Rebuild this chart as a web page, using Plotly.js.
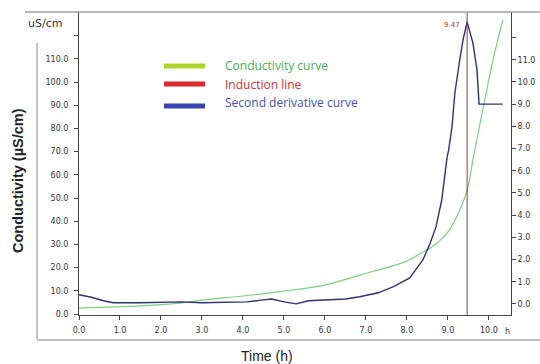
<!DOCTYPE html>
<html>
<head>
<meta charset="utf-8">
<script src="https://cdn.plot.ly/plotly-3.0.1.min.js"></script>
<style>html,body{margin:0;padding:0;background:#fff;}#chart{width:540px;height:364px;}</style>
</head>
<body>
<div id="chart"></div>
<script>
// Conductivity curve (left axis, µS/cm)
const condTime = [0, 1.4, 2.46, 3, 4, 5, 6, 6.85, 7.66, 8.0, 8.32, 8.6, 8.98, 9.29, 9.49, 9.61, 9.85, 10.1, 10.34];
const conductivity = [2.6, 3.4, 4.7, 6.0, 7.8, 9.9, 12.5, 16.8, 20.8, 22.8, 26.0, 28.8, 34.9, 44.8, 54.7, 66.4, 87.9, 109.5, 126.7];

// Second derivative curve (right axis)
const derivTime = [0, 0.3, 0.6, 0.83, 1.5, 2.5, 3.0, 3.6, 4.1, 4.5, 4.7, 5.0, 5.3, 5.6, 6.0, 6.5, 6.85, 7.3, 7.66, 8.07, 8.39, 8.56, 8.71, 8.85, 8.98, 9.02, 9.1, 9.17, 9.29, 9.37, 9.47, 9.61, 9.71, 9.76, 10.34];
const secondDeriv = [0.41, 0.3, 0.14, 0.05, 0.05, 0.09, 0.05, 0.07, 0.09, 0.18, 0.22, 0.09, 0.0, 0.14, 0.18, 0.22, 0.32, 0.5, 0.77, 1.17, 1.98, 2.7, 3.47, 4.68, 6.6, 6.94, 7.97, 9.5, 11.0, 11.9, 12.7, 11.76, 10.54, 9.0, 9.0];

// Induction time (h)
const inductionTime = 9.47;

// Tick labels
const xTicks = [0,1,2,3,4,5,6,7,8,9,10];
const xTickText = ["0.0","1.0","2.0","3.0","4.0","5.0","6.0","7.0","8.0","9.0","10.0"];
const yTicks = [0,10,20,30,40,50,60,70,80,90,100,110,120];
const yTickText = ["0.0","10.0","20.0","30.0","40.0","50.0","60.0","70.0","80.0","90.0","100.0","110.0",""];
const y2Ticks = [0,1,2,3,4,5,6,7,8,9,10,11,12];
const y2TickText = ["0.0","1.0","2.0","3.0","4.0","5.0","6.0","7.0","8.0","9.0","10.0","11.0",""];

const legendNames = ["Conductivity curve", "Induction line", "Second derivative curve"];

const tickFont = {family: "DejaVu Sans", size: 8, color: "#333"};

const traces = [
  {x: condTime, y: conductivity, type: "scatter", mode: "lines", name: legendNames[0],
   line: {color: "#7ad27a", width: 1.2, shape: "spline", smoothing: 0.7}, yaxis: "y", showlegend: false, hoverinfo: "skip"},
  {x: derivTime, y: secondDeriv, type: "scatter", mode: "lines", name: legendNames[2],
   line: {color: "#2f3272", width: 1.4}, yaxis: "y2", showlegend: false, hoverinfo: "skip"}
];

function px2x(px){ return (px - 79) / 432; }
function px2y(py){ return 1 - (py - 12) / 303; }

const legendColors = ["#a9d42e", "#d62a2f", "#3a44b0"];
const legendTextColors = ["#3fae5c", "#d03232", "#4152b2"];
const legendSwatchY = [66, 84, 106];
const legendTextY = [66, 84, 102];

const shapes = [
  // induction line
  {type: "line", xref: "x", yref: "paper", x0: inductionTime, x1: inductionTime, y0: 0, y1: 1,
   line: {color: "#8e3c3c", width: 1}},
  // outer frame (decorative)
  {type: "line", xref: "paper", yref: "paper", x0: px2x(25), x1: px2x(540), y0: 1, y1: 1,
   line: {color: "#a0a0a0", width: 1.5}},
  {type: "line", xref: "paper", yref: "paper", x0: px2x(37), x1: px2x(37), y0: px2y(43), y1: px2y(339),
   line: {color: "#b0b0b0", width: 1.5}},
  {type: "line", xref: "paper", yref: "paper", x0: px2x(37), x1: px2x(540), y0: px2y(340), y1: px2y(340),
   line: {color: "#a8a8a8", width: 1.5}}
];
legendColors.forEach((c, i) => {
  shapes.push({type: "line", xref: "paper", yref: "paper", x0: px2x(164), x1: px2x(205),
    y0: px2y(legendSwatchY[i]), y1: px2y(legendSwatchY[i]), line: {color: c, width: 5}});
});

const annotations = [
  {xref: "paper", yref: "paper", x: px2x(45), y: px2y(23), text: "uS/cm", showarrow: false,
   xanchor: "center", yanchor: "middle",
   font: {family: "DejaVu Sans", size: 11, color: "#333"}},
  {xref: "paper", yref: "paper", x: px2x(18), y: px2y(181), text: "Conductivity (µS/cm)", showarrow: false,
   xanchor: "center", yanchor: "middle",
   textangle: -90, font: {family: "Liberation Sans", size: 14.5, color: "#222", weight: "bold"}},
  {xref: "paper", yref: "paper", x: px2x(267), y: px2y(356), text: "Time (h)", showarrow: false,
   xanchor: "center", yanchor: "middle",
   font: {family: "Liberation Sans", size: 14, color: "#222"}},
  {xref: "paper", yref: "paper", x: px2x(507), y: px2y(331), text: "h", showarrow: false,
   xanchor: "center", yanchor: "middle",
   font: {family: "DejaVu Sans", size: 8, color: "#333"}},
  {xref: "x", yref: "paper", x: inductionTime, y: px2y(25), text: inductionTime.toFixed(2), showarrow: false,
   xanchor: "right", yanchor: "middle", xshift: -5, font: {family: "DejaVu Sans", size: 7, color: "#a03a3a"}}
];
legendNames.forEach((n, i) => {
  annotations.push({xref: "paper", yref: "paper", x: px2x(223), y: px2y(legendTextY[i]), text: n,
    showarrow: false, xanchor: "left", yanchor: "middle",
    font: {family: "Open Sans", size: 12, color: legendTextColors[i]}});
});

const layout = {
  width: 540, height: 364,
  margin: {l: 79, r: 29, t: 12, b: 49, pad: 0},
  paper_bgcolor: "#fff", plot_bgcolor: "#fff",
  showlegend: false,
  xaxis: {range: [0, 10.54], tickvals: xTicks, ticktext: xTickText, ticks: "outside", ticklen: 4,
    tickcolor: "#444", showline: true, linecolor: "#444", linewidth: 1, showgrid: false, zeroline: false,
    tickfont: tickFont, ticklabelstandoff: 3, fixedrange: true},
  yaxis: {range: [-0.4, 130.2], tickvals: yTicks, ticktext: yTickText, ticks: "outside", ticklen: 4,
    tickcolor: "#444", showline: true, linecolor: "#444", linewidth: 1, showgrid: false, zeroline: false,
    tickfont: tickFont, ticklabelstandoff: 4, fixedrange: true},
  yaxis2: {range: [-0.5, 13.15], tickvals: y2Ticks, ticktext: y2TickText, ticks: "outside", ticklen: 4,
    tickcolor: "#444", showline: true, linecolor: "#444", linewidth: 1, showgrid: false, zeroline: false,
    overlaying: "y", side: "right", tickfont: tickFont, fixedrange: true},
  shapes: shapes,
  annotations: annotations
};

Plotly.newPlot("chart", traces, layout, {staticPlot: true, displayModeBar: false});
</script>
</body>
</html>
